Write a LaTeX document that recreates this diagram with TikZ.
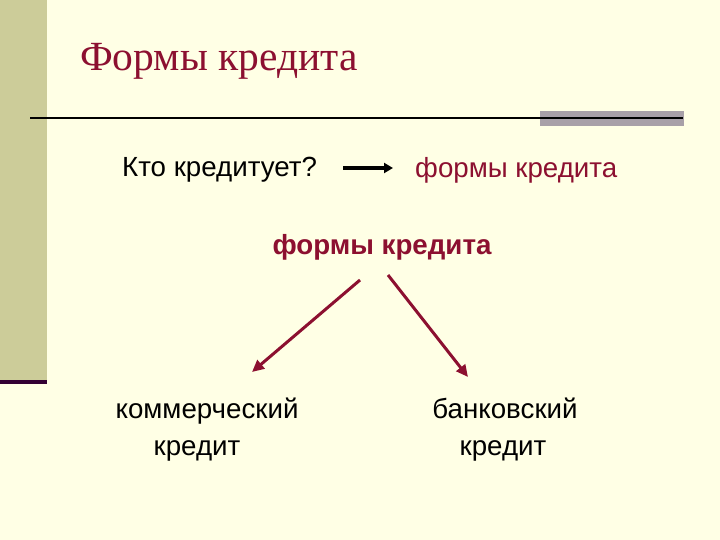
\documentclass[tikz,border=0pt]{standalone}
\usepackage{fontspec}
\setmainfont{Liberation Serif}
\setsansfont{Liberation Sans}
\usetikzlibrary{arrows.meta}
\definecolor{bgc}{RGB}{255,255,229}
\definecolor{barc}{RGB}{204,204,153}
\definecolor{darkline}{RGB}{51,0,51}
\definecolor{grayband}{RGB}{168,160,168}
\definecolor{wine}{RGB}{140,16,48}
\tikzset{
  lbl/.style={font=\sffamily\fontsize{27.7}{37}\selectfont, inner sep=0pt, anchor=center},
  redlbl/.style={lbl, text=wine},
  redarrow/.style={draw=wine, line width=3pt, -{Triangle[length=12pt,width=11pt]}},
}
\begin{document}
\begin{tikzpicture}[x=1pt,y=-1pt]
\useasboundingbox (0,0) rectangle (720,540);
\fill[bgc] (0,0) rectangle (720,540);
\fill[barc] (0,0) rectangle (47,380);
\fill[darkline] (0,380) rectangle (47,384);
\fill[grayband] (540,111) rectangle (684,126);
\draw[line width=2pt, black] (30,118) -- (683,118);
\node[anchor=west, inner sep=0pt, text=wine, font=\fontsize{41.5}{44}\selectfont] (title) at (80,61) {Формы кредита};
\node[lbl, anchor=west] (who) at (122,170) {Кто кредитует?};
\node[redlbl, anchor=west] (forms1) at (415,170) {формы кредита};
\draw[line width=3.5pt, -{Triangle[length=9pt,width=10pt]}] (343,168) -- (393,168);
\node[redlbl, font=\sffamily\bfseries\fontsize{27.7}{37}\selectfont] (forms2) at (382,247) {формы кредита};
\node[lbl, align=center] (comm) at (207,430) {коммерческий\\\hspace*{-20pt}кредит};
\node[lbl, align=center] (bank) at (505,430) {банковский\\\hspace*{-4pt}кредит};
\coordinate (l1) at (360,280);
\coordinate (l2) at (252,372);
\coordinate (r1) at (388,275);
\coordinate (r2) at (468,377);
\draw[redarrow] (l1) -- (l2);
\draw[redarrow] (r1) -- (r2);
\end{tikzpicture}
\end{document}
